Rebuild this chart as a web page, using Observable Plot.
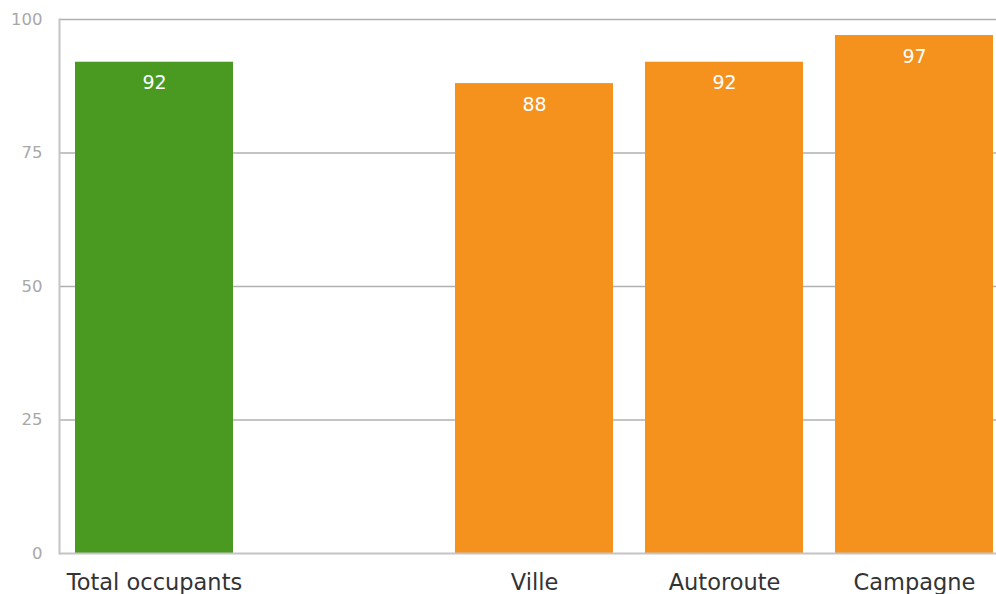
<!DOCTYPE html>
<html>
<head>
<meta charset="utf-8">
<script src="https://cdn.jsdelivr.net/npm/d3@7"></script>
<script src="https://cdn.jsdelivr.net/npm/@observablehq/plot@0.6"></script>
<style>
  html, body { margin: 0; padding: 0; background: #fff; overflow: hidden; }
  #chart { width: 996px; height: 594px; overflow: hidden; }
  #chart svg { display: block; max-width: none !important; }
</style>
</head>
<body>
<div id="chart"></div>
<script>
const categories = ["Total occupants", "Ville", "Autoroute", "Campagne"];
const values = [92, 88, 92, 97];
const groups = ["total", "lieu", "lieu", "lieu"];
const spacer = "\u00a0";
const xDomain = ["Total occupants", spacer, "Ville", "Autoroute", "Campagne"];
const yTicks = [0, 25, 50, 75, 100];
const gridTicks = [25, 50, 75, 100];

const data = categories.map((c, i) => ({cat: c, value: values[i], group: groups[i]}));

const chart = Plot.plot({
  width: 1010,
  height: 600,
  marginTop: 19,
  marginBottom: 47,
  marginLeft: 59,
  marginRight: 0,
  style: {fontFamily: "'DejaVu Sans', Verdana, sans-serif", background: "#fff", maxWidth: "none"},
  x: {domain: xDomain, paddingInner: 0.168, paddingOuter: 0.084, align: 0.5},
  y: {domain: [0, 100]},
  color: {domain: ["total", "lieu"], range: ["#4a9a21", "#f5921e"]},
  marks: [
    Plot.ruleY(gridTicks, {stroke: "#b0b0b0", strokeWidth: 1.5}),
    Plot.barY(data, {x: "cat", y: "value", fill: "group"}),
    Plot.frame({anchor: "left", stroke: "#c4c4c4", strokeWidth: 2}),
    Plot.ruleY([0], {stroke: "#c4c4c4", strokeWidth: 2}),
    Plot.text(data, {x: "cat", y: "value", text: d => String(d.value), fill: "#fff", fontSize: 19, dy: 21}),
    Plot.axisY({ticks: yTicks, tickSize: 0, tickPadding: 17, fontSize: 16.5, color: "#a8a8a8", label: null}),
    Plot.axisX({tickSize: 0, tickPadding: 21, fontSize: 22.5, color: "#333", label: null,
      tickFormat: d => d === spacer ? "" : d})
  ]
});
document.getElementById("chart").appendChild(chart);
</script>
</body>
</html>
